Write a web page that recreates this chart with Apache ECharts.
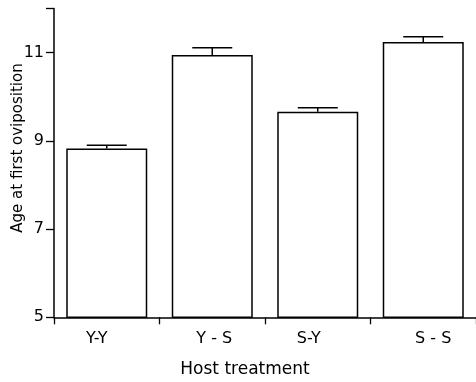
<!DOCTYPE html>
<html>
<head>
<meta charset="utf-8">
<script src="https://cdn.jsdelivr.net/npm/echarts@6/dist/echarts.min.js"></script>
<style>
html,body{margin:0;padding:0;background:#fff;}
#c{width:476px;height:382px;}
</style>
</head>
<body>
<div id="c"></div>
<script>
const categories = ['Y-Y', 'Y - S', 'S-Y', 'S - S'];
const means = [8.83, 10.95, 9.66, 11.24];
const errors = [0.07, 0.16, 0.09, 0.12];
const yLabelValues = [5, 7, 9, 11];
const yTickValues = [5, 7, 9, 11, 12];
const yTitle = 'Age at first oviposition';
const xTitle = 'Host treatment';

const FONT = 'DejaVu Sans';
const chart = echarts.init(document.getElementById('c'), null, {renderer: 'canvas'});

const errData = means.map((m, i) => [i, m, errors[i]]);
// small per-label nudges (left/right) to follow the original lettering
const base = {fontFamily: FONT, fontSize: 16, color: '#000'};
const labelRich = {
  l10: Object.assign({padding: [0, 20, 0, 0]}, base),
  r2: Object.assign({padding: [0, 0, 0, 4]}, base),
  l9: Object.assign({padding: [0, 18, 0, 0]}, base),
  r10: Object.assign({padding: [0, 0, 0, 20]}, base)
};
const labelStyleKeys = ['l10', 'r2', 'l9', 'r10'];

chart.setOption({
  animation: false,
  backgroundColor: '#fff',
  grid: {left: 54, right: 0, top: 8.6, bottom: 64.7, containLabel: false},
  xAxis: {
    type: 'category',
    data: categories,
    axisLine: {lineStyle: {color: '#000', width: 1.5}},
    axisTick: {show: true, interval: 0, length: 7, lineStyle: {color: '#000', width: 1.3}},
    axisLabel: {
      interval: 0, hideOverlap: false,
      color: '#000', fontFamily: FONT, fontSize: 16, margin: 14,
      formatter: function (v, idx) { return '{' + labelStyleKeys[idx] + '|' + v + '}'; },
      rich: labelRich
    }
  },
  yAxis: {
    type: 'value',
    min: 5, max: 12,
    axisLine: {show: true, lineStyle: {color: '#000', width: 1.5}},
    axisTick: {show: true, length: 8, customValues: yTickValues, lineStyle: {color: '#000', width: 1.3}},
    axisLabel: {color: '#000', fontFamily: FONT, fontSize: 16, margin: 10, customValues: yLabelValues},
    splitLine: {show: false}
  },
  graphic: [
    {type: 'text', x: 18, y: 148, rotation: Math.PI / 2, style: {text: yTitle, font: '15px ' + FONT, fill: '#000', align: 'center', verticalAlign: 'middle'}},
    {type: 'text', x: 245, y: 370, style: {text: xTitle, font: '17px ' + FONT, fill: '#000', align: 'center', verticalAlign: 'middle'}}
  ],
  series: [
    {
      type: 'bar',
      data: means,
      barWidth: 81,
      itemStyle: {color: '#fff', borderColor: '#000', borderWidth: 1.5},
      z: 2
    },
    {
      type: 'custom',
      data: errData,
      z: 3,
      renderItem: function (params, api) {
        const i = api.value(0);
        const b = api.coord([i, api.value(1)]);
        const top = api.coord([i, api.value(1) + api.value(2)]);
        const half = 20;
        return {
          type: 'group',
          children: [
            {type: 'line', shape: {x1: b[0], y1: b[1], x2: top[0], y2: top[1]}, style: {stroke: '#000', lineWidth: 1.5}},
            {type: 'line', shape: {x1: top[0] - half, y1: top[1], x2: top[0] + half, y2: top[1]}, style: {stroke: '#000', lineWidth: 1.5}}
          ]
        };
      }
    }
  ]
});
</script>
</body>
</html>
